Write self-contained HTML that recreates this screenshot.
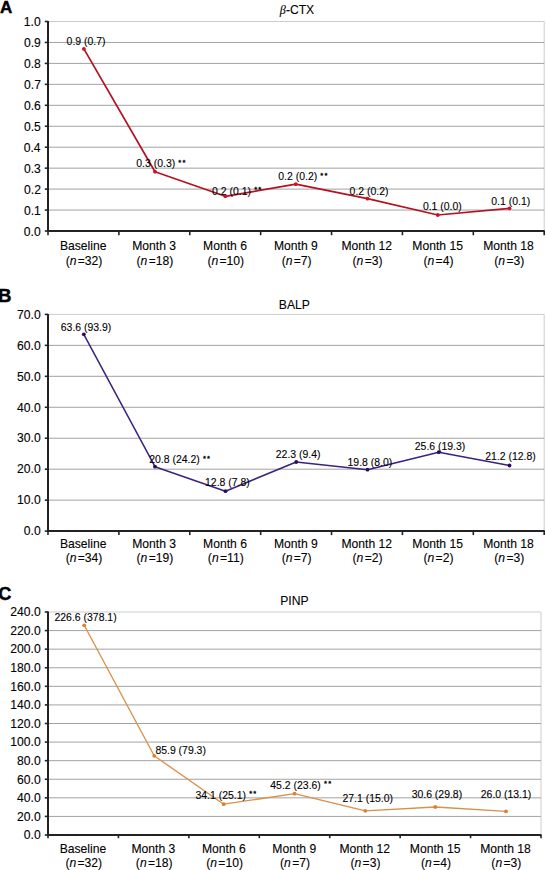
<!DOCTYPE html>
<html><head><meta charset="utf-8"><style>
html,body{margin:0;padding:0;background:#fff;}
body{width:546px;height:870px;overflow:hidden;}
svg{display:block;font-family:"Liberation Sans",sans-serif;}
text{stroke:#000;stroke-width:0.1px;}
</style></head><body>
<svg width="546" height="870" viewBox="0 0 546 870">
<rect width="546" height="870" fill="#fff"/>
<text x="-0.10" y="12.50" font-size="17.0" font-weight="bold" fill="#000" style="stroke-width:0.45px">A</text>
<text x="279.85" y="13.80" font-size="12.15" font-weight="normal" fill="#000"><tspan font-style="italic" font-family="Liberation Serif">β</tspan>-CTX</text>
<line x1="544.20" y1="21.50" x2="544.20" y2="231.00" stroke="#cccccc" stroke-width="1"/>
<line x1="48.00" y1="210.05" x2="544.20" y2="210.05" stroke="#a2a2a2" stroke-width="1"/>
<line x1="48.00" y1="189.10" x2="544.20" y2="189.10" stroke="#a2a2a2" stroke-width="1"/>
<line x1="48.00" y1="168.15" x2="544.20" y2="168.15" stroke="#a2a2a2" stroke-width="1"/>
<line x1="48.00" y1="147.20" x2="544.20" y2="147.20" stroke="#a2a2a2" stroke-width="1"/>
<line x1="48.00" y1="126.25" x2="544.20" y2="126.25" stroke="#a2a2a2" stroke-width="1"/>
<line x1="48.00" y1="105.30" x2="544.20" y2="105.30" stroke="#a2a2a2" stroke-width="1"/>
<line x1="48.00" y1="84.35" x2="544.20" y2="84.35" stroke="#a2a2a2" stroke-width="1"/>
<line x1="48.00" y1="63.40" x2="544.20" y2="63.40" stroke="#a2a2a2" stroke-width="1"/>
<line x1="48.00" y1="42.45" x2="544.20" y2="42.45" stroke="#a2a2a2" stroke-width="1"/>
<line x1="48.00" y1="21.50" x2="544.20" y2="21.50" stroke="#cccccc" stroke-width="1"/>
<line x1="44.80" y1="231.00" x2="48.00" y2="231.00" stroke="#222" stroke-width="1.6"/>
<text x="23.84" y="235.85" font-size="12.15" font-weight="normal" fill="#000">0.0</text>
<line x1="44.80" y1="210.05" x2="48.00" y2="210.05" stroke="#222" stroke-width="1.6"/>
<text x="23.96" y="214.90" font-size="12.15" font-weight="normal" fill="#000">0.1</text>
<line x1="44.80" y1="189.10" x2="48.00" y2="189.10" stroke="#222" stroke-width="1.6"/>
<text x="24.02" y="193.95" font-size="12.15" font-weight="normal" fill="#000">0.2</text>
<line x1="44.80" y1="168.15" x2="48.00" y2="168.15" stroke="#222" stroke-width="1.6"/>
<text x="23.90" y="173.00" font-size="12.15" font-weight="normal" fill="#000">0.3</text>
<line x1="44.80" y1="147.20" x2="48.00" y2="147.20" stroke="#222" stroke-width="1.6"/>
<text x="23.72" y="152.05" font-size="12.15" font-weight="normal" fill="#000">0.4</text>
<line x1="44.80" y1="126.25" x2="48.00" y2="126.25" stroke="#222" stroke-width="1.6"/>
<text x="23.90" y="131.10" font-size="12.15" font-weight="normal" fill="#000">0.5</text>
<line x1="44.80" y1="105.30" x2="48.00" y2="105.30" stroke="#222" stroke-width="1.6"/>
<text x="23.90" y="110.15" font-size="12.15" font-weight="normal" fill="#000">0.6</text>
<line x1="44.80" y1="84.35" x2="48.00" y2="84.35" stroke="#222" stroke-width="1.6"/>
<text x="24.02" y="89.20" font-size="12.15" font-weight="normal" fill="#000">0.7</text>
<line x1="44.80" y1="63.40" x2="48.00" y2="63.40" stroke="#222" stroke-width="1.6"/>
<text x="23.90" y="68.25" font-size="12.15" font-weight="normal" fill="#000">0.8</text>
<line x1="44.80" y1="42.45" x2="48.00" y2="42.45" stroke="#222" stroke-width="1.6"/>
<text x="23.96" y="47.30" font-size="12.15" font-weight="normal" fill="#000">0.9</text>
<line x1="44.80" y1="21.50" x2="48.00" y2="21.50" stroke="#222" stroke-width="1.6"/>
<text x="23.84" y="26.35" font-size="12.15" font-weight="normal" fill="#000">1.0</text>
<line x1="48.00" y1="231.00" x2="48.00" y2="235.20" stroke="#222" stroke-width="1.6"/>
<line x1="118.89" y1="231.00" x2="118.89" y2="235.20" stroke="#222" stroke-width="1.6"/>
<line x1="189.77" y1="231.00" x2="189.77" y2="235.20" stroke="#222" stroke-width="1.6"/>
<line x1="260.66" y1="231.00" x2="260.66" y2="235.20" stroke="#222" stroke-width="1.6"/>
<line x1="331.54" y1="231.00" x2="331.54" y2="235.20" stroke="#222" stroke-width="1.6"/>
<line x1="402.43" y1="231.00" x2="402.43" y2="235.20" stroke="#222" stroke-width="1.6"/>
<line x1="473.31" y1="231.00" x2="473.31" y2="235.20" stroke="#222" stroke-width="1.6"/>
<line x1="544.20" y1="231.00" x2="544.20" y2="235.20" stroke="#222" stroke-width="1.6"/>
<line x1="48.00" y1="21.00" x2="48.00" y2="232.00" stroke="#222" stroke-width="2"/>
<line x1="47.00" y1="231.00" x2="544.70" y2="231.00" stroke="#222" stroke-width="2"/>
<text x="59.90" y="250.40" font-size="12.15" font-weight="normal" fill="#000">Baseline</text>
<text x="65.63" y="264.80" font-size="12.15" font-weight="normal" fill="#000">(<tspan font-style="italic">n</tspan><tspan dx="1.3">=</tspan>32)</text>
<text x="132.15" y="250.40" font-size="12.15" font-weight="normal" fill="#000">Month 3</text>
<text x="136.52" y="264.80" font-size="12.15" font-weight="normal" fill="#000">(<tspan font-style="italic">n</tspan><tspan dx="1.3">=</tspan>18)</text>
<text x="203.04" y="250.40" font-size="12.15" font-weight="normal" fill="#000">Month 6</text>
<text x="207.41" y="264.80" font-size="12.15" font-weight="normal" fill="#000">(<tspan font-style="italic">n</tspan><tspan dx="1.3">=</tspan>10)</text>
<text x="273.96" y="250.40" font-size="12.15" font-weight="normal" fill="#000">Month 9</text>
<text x="281.66" y="264.80" font-size="12.15" font-weight="normal" fill="#000">(<tspan font-style="italic">n</tspan><tspan dx="1.3">=</tspan>7)</text>
<text x="341.47" y="250.40" font-size="12.15" font-weight="normal" fill="#000">Month 12</text>
<text x="352.55" y="264.80" font-size="12.15" font-weight="normal" fill="#000">(<tspan font-style="italic">n</tspan><tspan dx="1.3">=</tspan>3)</text>
<text x="412.30" y="250.40" font-size="12.15" font-weight="normal" fill="#000">Month 15</text>
<text x="423.43" y="264.80" font-size="12.15" font-weight="normal" fill="#000">(<tspan font-style="italic">n</tspan><tspan dx="1.3">=</tspan>4)</text>
<text x="483.18" y="250.40" font-size="12.15" font-weight="normal" fill="#000">Month 18</text>
<text x="494.32" y="264.80" font-size="12.15" font-weight="normal" fill="#000">(<tspan font-style="italic">n</tspan><tspan dx="1.3">=</tspan>3)</text>
<polyline points="83.90,48.90 155.00,171.70 225.30,196.30 295.80,184.20 367.50,198.70 437.80,215.00 509.50,208.30" fill="none" stroke="#b41222" stroke-width="1.7" stroke-linejoin="round"/>
<circle cx="83.90" cy="48.90" r="1.9" fill="#d01028"/>
<circle cx="155.00" cy="171.70" r="1.9" fill="#d01028"/>
<circle cx="225.30" cy="196.30" r="1.9" fill="#d01028"/>
<circle cx="295.80" cy="184.20" r="1.9" fill="#d01028"/>
<circle cx="367.50" cy="198.70" r="1.9" fill="#d01028"/>
<circle cx="437.80" cy="215.00" r="1.9" fill="#d01028"/>
<circle cx="509.50" cy="208.30" r="1.9" fill="#d01028"/>
<text transform="translate(66.58,45.30) scale(1.04,1)" font-size="10.05" font-weight="normal" fill="#000">0.9 (0.7)</text>
<text transform="translate(136.28,167.20) scale(1.04,1)" font-size="10.05" font-weight="normal" fill="#000">0.3 (0.3)</text>
<text x="178.35" y="164.81" font-size="7.6" fill="#000" style="stroke-width:0.35px">*</text>
<text x="182.55" y="164.81" font-size="7.6" fill="#000" style="stroke-width:0.35px">*</text>
<text transform="translate(212.08,194.50) scale(1.04,1)" font-size="10.05" font-weight="normal" fill="#000">0.2 (0.1)</text>
<text x="254.15" y="192.11" font-size="7.6" fill="#000" style="stroke-width:0.35px">*</text>
<text x="258.35" y="192.11" font-size="7.6" fill="#000" style="stroke-width:0.35px">*</text>
<text transform="translate(278.28,180.30) scale(1.04,1)" font-size="10.05" font-weight="normal" fill="#000">0.2 (0.2)</text>
<text x="320.35" y="177.91" font-size="7.6" fill="#000" style="stroke-width:0.35px">*</text>
<text x="324.55" y="177.91" font-size="7.6" fill="#000" style="stroke-width:0.35px">*</text>
<text transform="translate(349.58,194.70) scale(1.04,1)" font-size="10.05" font-weight="normal" fill="#000">0.2 (0.2)</text>
<text transform="translate(422.88,210.30) scale(1.04,1)" font-size="10.05" font-weight="normal" fill="#000">0.1 (0.0)</text>
<text transform="translate(491.28,204.50) scale(1.04,1)" font-size="10.05" font-weight="normal" fill="#000">0.1 (0.1)</text>
<text x="-2.00" y="301.80" font-size="18.6" font-weight="bold" fill="#000" style="stroke-width:0.45px">B</text>
<text x="278.80" y="308.60" font-size="12.15" font-weight="normal" fill="#000">BALP</text>
<line x1="544.20" y1="314.40" x2="544.20" y2="531.10" stroke="#cccccc" stroke-width="1"/>
<line x1="48.00" y1="500.14" x2="544.20" y2="500.14" stroke="#a2a2a2" stroke-width="1"/>
<line x1="48.00" y1="469.19" x2="544.20" y2="469.19" stroke="#a2a2a2" stroke-width="1"/>
<line x1="48.00" y1="438.23" x2="544.20" y2="438.23" stroke="#a2a2a2" stroke-width="1"/>
<line x1="48.00" y1="407.27" x2="544.20" y2="407.27" stroke="#a2a2a2" stroke-width="1"/>
<line x1="48.00" y1="376.31" x2="544.20" y2="376.31" stroke="#a2a2a2" stroke-width="1"/>
<line x1="48.00" y1="345.36" x2="544.20" y2="345.36" stroke="#a2a2a2" stroke-width="1"/>
<line x1="48.00" y1="314.40" x2="544.20" y2="314.40" stroke="#cccccc" stroke-width="1"/>
<line x1="44.80" y1="531.10" x2="48.00" y2="531.10" stroke="#222" stroke-width="1.6"/>
<text x="23.84" y="535.35" font-size="12.15" font-weight="normal" fill="#000">0.0</text>
<line x1="44.80" y1="500.14" x2="48.00" y2="500.14" stroke="#222" stroke-width="1.6"/>
<text x="17.09" y="504.39" font-size="12.15" font-weight="normal" fill="#000">10.0</text>
<line x1="44.80" y1="469.19" x2="48.00" y2="469.19" stroke="#222" stroke-width="1.6"/>
<text x="17.09" y="473.44" font-size="12.15" font-weight="normal" fill="#000">20.0</text>
<line x1="44.80" y1="438.23" x2="48.00" y2="438.23" stroke="#222" stroke-width="1.6"/>
<text x="17.09" y="442.48" font-size="12.15" font-weight="normal" fill="#000">30.0</text>
<line x1="44.80" y1="407.27" x2="48.00" y2="407.27" stroke="#222" stroke-width="1.6"/>
<text x="17.09" y="411.52" font-size="12.15" font-weight="normal" fill="#000">40.0</text>
<line x1="44.80" y1="376.31" x2="48.00" y2="376.31" stroke="#222" stroke-width="1.6"/>
<text x="17.09" y="380.56" font-size="12.15" font-weight="normal" fill="#000">50.0</text>
<line x1="44.80" y1="345.36" x2="48.00" y2="345.36" stroke="#222" stroke-width="1.6"/>
<text x="17.09" y="349.61" font-size="12.15" font-weight="normal" fill="#000">60.0</text>
<line x1="44.80" y1="314.40" x2="48.00" y2="314.40" stroke="#222" stroke-width="1.6"/>
<text x="17.09" y="318.65" font-size="12.15" font-weight="normal" fill="#000">70.0</text>
<line x1="48.00" y1="531.10" x2="48.00" y2="535.10" stroke="#222" stroke-width="1.6"/>
<line x1="118.89" y1="531.10" x2="118.89" y2="535.10" stroke="#222" stroke-width="1.6"/>
<line x1="189.77" y1="531.10" x2="189.77" y2="535.10" stroke="#222" stroke-width="1.6"/>
<line x1="260.66" y1="531.10" x2="260.66" y2="535.10" stroke="#222" stroke-width="1.6"/>
<line x1="331.54" y1="531.10" x2="331.54" y2="535.10" stroke="#222" stroke-width="1.6"/>
<line x1="402.43" y1="531.10" x2="402.43" y2="535.10" stroke="#222" stroke-width="1.6"/>
<line x1="473.31" y1="531.10" x2="473.31" y2="535.10" stroke="#222" stroke-width="1.6"/>
<line x1="544.20" y1="531.10" x2="544.20" y2="535.10" stroke="#222" stroke-width="1.6"/>
<line x1="48.00" y1="313.90" x2="48.00" y2="532.10" stroke="#222" stroke-width="2"/>
<line x1="47.00" y1="531.10" x2="544.70" y2="531.10" stroke="#222" stroke-width="2"/>
<text x="59.90" y="548.30" font-size="12.15" font-weight="normal" fill="#000">Baseline</text>
<text x="65.63" y="562.40" font-size="12.15" font-weight="normal" fill="#000">(<tspan font-style="italic">n</tspan><tspan dx="1.3">=</tspan>34)</text>
<text x="132.15" y="548.30" font-size="12.15" font-weight="normal" fill="#000">Month 3</text>
<text x="136.52" y="562.40" font-size="12.15" font-weight="normal" fill="#000">(<tspan font-style="italic">n</tspan><tspan dx="1.3">=</tspan>19)</text>
<text x="203.04" y="548.30" font-size="12.15" font-weight="normal" fill="#000">Month 6</text>
<text x="207.86" y="562.40" font-size="12.15" font-weight="normal" fill="#000">(<tspan font-style="italic">n</tspan><tspan dx="1.3">=</tspan>11)</text>
<text x="273.96" y="548.30" font-size="12.15" font-weight="normal" fill="#000">Month 9</text>
<text x="281.66" y="562.40" font-size="12.15" font-weight="normal" fill="#000">(<tspan font-style="italic">n</tspan><tspan dx="1.3">=</tspan>7)</text>
<text x="341.47" y="548.30" font-size="12.15" font-weight="normal" fill="#000">Month 12</text>
<text x="352.55" y="562.40" font-size="12.15" font-weight="normal" fill="#000">(<tspan font-style="italic">n</tspan><tspan dx="1.3">=</tspan>2)</text>
<text x="412.30" y="548.30" font-size="12.15" font-weight="normal" fill="#000">Month 15</text>
<text x="423.43" y="562.40" font-size="12.15" font-weight="normal" fill="#000">(<tspan font-style="italic">n</tspan><tspan dx="1.3">=</tspan>2)</text>
<text x="483.18" y="548.30" font-size="12.15" font-weight="normal" fill="#000">Month 18</text>
<text x="494.32" y="562.40" font-size="12.15" font-weight="normal" fill="#000">(<tspan font-style="italic">n</tspan><tspan dx="1.3">=</tspan>3)</text>
<polyline points="83.80,334.30 155.00,466.70 225.50,491.20 296.20,462.00 367.50,469.70 438.70,452.20 509.50,465.50" fill="none" stroke="#3a2282" stroke-width="1.5" stroke-linejoin="round"/>
<circle cx="83.80" cy="334.30" r="1.9" fill="#2a0c5c"/>
<circle cx="155.00" cy="466.70" r="1.9" fill="#2a0c5c"/>
<circle cx="225.50" cy="491.20" r="1.9" fill="#2a0c5c"/>
<circle cx="296.20" cy="462.00" r="1.9" fill="#2a0c5c"/>
<circle cx="367.50" cy="469.70" r="1.9" fill="#2a0c5c"/>
<circle cx="438.70" cy="452.20" r="1.9" fill="#2a0c5c"/>
<circle cx="509.50" cy="465.50" r="1.9" fill="#2a0c5c"/>
<text transform="translate(60.78,330.80) scale(1.04,1)" font-size="10.05" font-weight="normal" fill="#000">63.6 (93.9)</text>
<text transform="translate(149.18,463.00) scale(1.04,1)" font-size="10.05" font-weight="normal" fill="#000">20.8 (24.2)</text>
<text x="202.90" y="460.61" font-size="7.6" fill="#000" style="stroke-width:0.35px">*</text>
<text x="207.10" y="460.61" font-size="7.6" fill="#000" style="stroke-width:0.35px">*</text>
<text transform="translate(205.02,486.20) scale(1.04,1)" font-size="10.05" font-weight="normal" fill="#000">12.8 (7.8)</text>
<text transform="translate(275.78,458.30) scale(1.04,1)" font-size="10.05" font-weight="normal" fill="#000">22.3 (9.4)</text>
<text transform="translate(347.52,466.20) scale(1.04,1)" font-size="10.05" font-weight="normal" fill="#000">19.8 (8.0)</text>
<text transform="translate(414.78,449.70) scale(1.04,1)" font-size="10.05" font-weight="normal" fill="#000">25.6 (19.3)</text>
<text transform="translate(485.28,460.30) scale(1.04,1)" font-size="10.05" font-weight="normal" fill="#000">21.2 (12.8)</text>
<text x="-1.70" y="600.20" font-size="18.2" font-weight="bold" fill="#000" style="stroke-width:0.45px">C</text>
<text x="280.26" y="604.50" font-size="12.15" font-weight="normal" fill="#000">PINP</text>
<line x1="541.00" y1="612.00" x2="541.00" y2="835.00" stroke="#cccccc" stroke-width="1"/>
<line x1="48.00" y1="816.42" x2="541.00" y2="816.42" stroke="#a2a2a2" stroke-width="1"/>
<line x1="48.00" y1="797.83" x2="541.00" y2="797.83" stroke="#a2a2a2" stroke-width="1"/>
<line x1="48.00" y1="779.25" x2="541.00" y2="779.25" stroke="#a2a2a2" stroke-width="1"/>
<line x1="48.00" y1="760.67" x2="541.00" y2="760.67" stroke="#a2a2a2" stroke-width="1"/>
<line x1="48.00" y1="742.08" x2="541.00" y2="742.08" stroke="#a2a2a2" stroke-width="1"/>
<line x1="48.00" y1="723.50" x2="541.00" y2="723.50" stroke="#a2a2a2" stroke-width="1"/>
<line x1="48.00" y1="704.92" x2="541.00" y2="704.92" stroke="#a2a2a2" stroke-width="1"/>
<line x1="48.00" y1="686.33" x2="541.00" y2="686.33" stroke="#a2a2a2" stroke-width="1"/>
<line x1="48.00" y1="667.75" x2="541.00" y2="667.75" stroke="#a2a2a2" stroke-width="1"/>
<line x1="48.00" y1="649.17" x2="541.00" y2="649.17" stroke="#a2a2a2" stroke-width="1"/>
<line x1="48.00" y1="630.58" x2="541.00" y2="630.58" stroke="#a2a2a2" stroke-width="1"/>
<line x1="48.00" y1="612.00" x2="541.00" y2="612.00" stroke="#cccccc" stroke-width="1"/>
<line x1="44.80" y1="835.00" x2="48.00" y2="835.00" stroke="#222" stroke-width="1.6"/>
<text x="23.84" y="839.25" font-size="12.15" font-weight="normal" fill="#000">0.0</text>
<line x1="44.80" y1="816.42" x2="48.00" y2="816.42" stroke="#222" stroke-width="1.6"/>
<text x="17.09" y="820.67" font-size="12.15" font-weight="normal" fill="#000">20.0</text>
<line x1="44.80" y1="797.83" x2="48.00" y2="797.83" stroke="#222" stroke-width="1.6"/>
<text x="17.09" y="802.08" font-size="12.15" font-weight="normal" fill="#000">40.0</text>
<line x1="44.80" y1="779.25" x2="48.00" y2="779.25" stroke="#222" stroke-width="1.6"/>
<text x="17.09" y="783.50" font-size="12.15" font-weight="normal" fill="#000">60.0</text>
<line x1="44.80" y1="760.67" x2="48.00" y2="760.67" stroke="#222" stroke-width="1.6"/>
<text x="17.09" y="764.92" font-size="12.15" font-weight="normal" fill="#000">80.0</text>
<line x1="44.80" y1="742.08" x2="48.00" y2="742.08" stroke="#222" stroke-width="1.6"/>
<text x="10.35" y="746.33" font-size="12.15" font-weight="normal" fill="#000">100.0</text>
<line x1="44.80" y1="723.50" x2="48.00" y2="723.50" stroke="#222" stroke-width="1.6"/>
<text x="10.35" y="727.75" font-size="12.15" font-weight="normal" fill="#000">120.0</text>
<line x1="44.80" y1="704.92" x2="48.00" y2="704.92" stroke="#222" stroke-width="1.6"/>
<text x="10.35" y="709.17" font-size="12.15" font-weight="normal" fill="#000">140.0</text>
<line x1="44.80" y1="686.33" x2="48.00" y2="686.33" stroke="#222" stroke-width="1.6"/>
<text x="10.35" y="690.58" font-size="12.15" font-weight="normal" fill="#000">160.0</text>
<line x1="44.80" y1="667.75" x2="48.00" y2="667.75" stroke="#222" stroke-width="1.6"/>
<text x="10.35" y="672.00" font-size="12.15" font-weight="normal" fill="#000">180.0</text>
<line x1="44.80" y1="649.17" x2="48.00" y2="649.17" stroke="#222" stroke-width="1.6"/>
<text x="10.35" y="653.42" font-size="12.15" font-weight="normal" fill="#000">200.0</text>
<line x1="44.80" y1="630.58" x2="48.00" y2="630.58" stroke="#222" stroke-width="1.6"/>
<text x="10.35" y="634.83" font-size="12.15" font-weight="normal" fill="#000">220.0</text>
<line x1="44.80" y1="612.00" x2="48.00" y2="612.00" stroke="#222" stroke-width="1.6"/>
<text x="10.35" y="616.25" font-size="12.15" font-weight="normal" fill="#000">240.0</text>
<line x1="48.00" y1="835.00" x2="48.00" y2="838.20" stroke="#222" stroke-width="1.6"/>
<line x1="118.43" y1="835.00" x2="118.43" y2="838.20" stroke="#222" stroke-width="1.6"/>
<line x1="188.86" y1="835.00" x2="188.86" y2="838.20" stroke="#222" stroke-width="1.6"/>
<line x1="259.29" y1="835.00" x2="259.29" y2="838.20" stroke="#222" stroke-width="1.6"/>
<line x1="329.71" y1="835.00" x2="329.71" y2="838.20" stroke="#222" stroke-width="1.6"/>
<line x1="400.14" y1="835.00" x2="400.14" y2="838.20" stroke="#222" stroke-width="1.6"/>
<line x1="470.57" y1="835.00" x2="470.57" y2="838.20" stroke="#222" stroke-width="1.6"/>
<line x1="541.00" y1="835.00" x2="541.00" y2="838.20" stroke="#222" stroke-width="1.6"/>
<line x1="48.00" y1="611.50" x2="48.00" y2="836.00" stroke="#222" stroke-width="2"/>
<line x1="47.00" y1="835.00" x2="541.50" y2="835.00" stroke="#222" stroke-width="2"/>
<text x="59.67" y="852.60" font-size="12.15" font-weight="normal" fill="#000">Baseline</text>
<text x="65.41" y="866.50" font-size="12.15" font-weight="normal" fill="#000">(<tspan font-style="italic">n</tspan><tspan dx="1.3">=</tspan>32)</text>
<text x="131.47" y="852.60" font-size="12.15" font-weight="normal" fill="#000">Month 3</text>
<text x="135.83" y="866.50" font-size="12.15" font-weight="normal" fill="#000">(<tspan font-style="italic">n</tspan><tspan dx="1.3">=</tspan>18)</text>
<text x="201.90" y="852.60" font-size="12.15" font-weight="normal" fill="#000">Month 6</text>
<text x="206.26" y="866.50" font-size="12.15" font-weight="normal" fill="#000">(<tspan font-style="italic">n</tspan><tspan dx="1.3">=</tspan>10)</text>
<text x="272.36" y="852.60" font-size="12.15" font-weight="normal" fill="#000">Month 9</text>
<text x="280.06" y="866.50" font-size="12.15" font-weight="normal" fill="#000">(<tspan font-style="italic">n</tspan><tspan dx="1.3">=</tspan>7)</text>
<text x="339.41" y="852.60" font-size="12.15" font-weight="normal" fill="#000">Month 12</text>
<text x="350.49" y="866.50" font-size="12.15" font-weight="normal" fill="#000">(<tspan font-style="italic">n</tspan><tspan dx="1.3">=</tspan>3)</text>
<text x="409.78" y="852.60" font-size="12.15" font-weight="normal" fill="#000">Month 15</text>
<text x="420.92" y="866.50" font-size="12.15" font-weight="normal" fill="#000">(<tspan font-style="italic">n</tspan><tspan dx="1.3">=</tspan>4)</text>
<text x="480.21" y="852.60" font-size="12.15" font-weight="normal" fill="#000">Month 18</text>
<text x="491.35" y="866.50" font-size="12.15" font-weight="normal" fill="#000">(<tspan font-style="italic">n</tspan><tspan dx="1.3">=</tspan>3)</text>
<polyline points="84.20,625.30 154.20,755.80 223.70,804.20 294.50,793.70 365.30,810.80 435.30,807.00 506.00,811.40" fill="none" stroke="#d8904a" stroke-width="1.35" stroke-linejoin="round"/>
<circle cx="84.20" cy="625.30" r="1.9" fill="#e0802e"/>
<circle cx="154.20" cy="755.80" r="1.9" fill="#e0802e"/>
<circle cx="223.70" cy="804.20" r="1.9" fill="#e0802e"/>
<circle cx="294.50" cy="793.70" r="1.9" fill="#e0802e"/>
<circle cx="365.30" cy="810.80" r="1.9" fill="#e0802e"/>
<circle cx="435.30" cy="807.00" r="1.9" fill="#e0802e"/>
<circle cx="506.00" cy="811.40" r="1.9" fill="#e0802e"/>
<text transform="translate(54.48,621.20) scale(1.04,1)" font-size="10.05" font-weight="normal" fill="#000">226.6 (378.1)</text>
<text transform="translate(155.38,753.70) scale(1.04,1)" font-size="10.05" font-weight="normal" fill="#000">85.9 (79.3)</text>
<text transform="translate(195.43,798.70) scale(1.04,1)" font-size="10.05" font-weight="normal" fill="#000">34.1 (25.1)</text>
<text x="249.16" y="796.31" font-size="7.6" fill="#000" style="stroke-width:0.35px">*</text>
<text x="253.36" y="796.31" font-size="7.6" fill="#000" style="stroke-width:0.35px">*</text>
<text transform="translate(270.29,788.70) scale(1.04,1)" font-size="10.05" font-weight="normal" fill="#000">45.2 (23.6)</text>
<text x="324.02" y="786.31" font-size="7.6" fill="#000" style="stroke-width:0.35px">*</text>
<text x="328.22" y="786.31" font-size="7.6" fill="#000" style="stroke-width:0.35px">*</text>
<text transform="translate(342.48,801.70) scale(1.04,1)" font-size="10.05" font-weight="normal" fill="#000">27.1 (15.0)</text>
<text transform="translate(411.63,798.30) scale(1.04,1)" font-size="10.05" font-weight="normal" fill="#000">30.6 (29.8)</text>
<text transform="translate(480.78,797.60) scale(1.04,1)" font-size="10.05" font-weight="normal" fill="#000">26.0 (13.1)</text>
</svg>
</body></html>
